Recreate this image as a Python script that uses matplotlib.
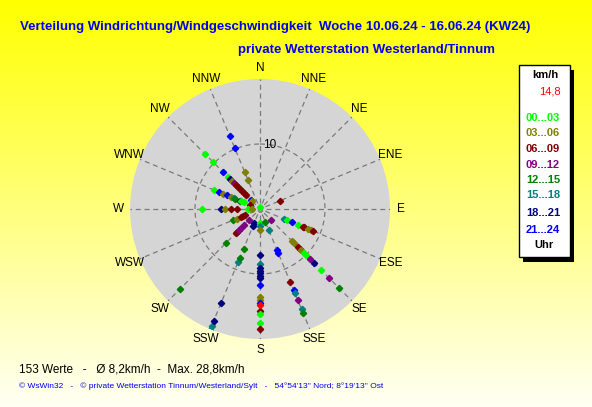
import numpy as np
import matplotlib
matplotlib.use("Agg")
import matplotlib.pyplot as plt
from matplotlib.patches import Rectangle

plt.rcParams['font.family'] = ['Liberation Sans', 'DejaVu Sans']

W, H = 592, 407

compass = ["N", "NNE", "NE", "ENE", "E", "ESE", "SE", "SSE",
           "S", "SSW", "SW", "WSW", "W", "WNW", "NW", "NNW"]

hour_bins = ["00...03", "03...06", "06...09", "09...12",
             "12...15", "15...18", "18...21", "21...24"]
bin_colors = ["#00ff00", "#808000", "#800000", "#800080",
              "#008000", "#008080", "#000080", "#0000ff"]

# each point: direction, speed (km/h), hour bin index
pt_dir = (["N"]
          + ["NNW"] * 4
          + ["NW"] * 15
          + ["WNW"] * 11
          + ["W"] * 7
          + ["WSW"] * 5
          + ["SW"] * 8
          + ["SSW"] * 9
          + ["S"] * 18
          + ["SSE"] * 10
          + ["SE"] * 13
          + ["ESE"] * 9
          + ["ENE"])
pt_speed = ([0.3]
            + [12.1, 10.2, 6.2, 4.9]
            + [12.0, 10.3, 8.1, 7.0, 6.6, 6.1, 5.7, 5.2, 4.8, 4.4, 4.0, 3.5, 3.1, 1.9, 1.7]
            + [7.7, 6.8, 6.1, 5.5, 4.8, 4.4, 4.1, 3.4, 2.7, 3.1, 1.7]
            + [8.9, 6.0, 5.4, 4.4, 3.6, 1.9, 1.3]
            + [4.5, 3.9, 3.1, 2.8, 2.5]
            + [17.4, 7.5, 5.2, 4.9, 4.6, 4.1, 3.5, 2.4]
            + [20.2, 19.4, 18.6, 15.7, 8.9, 8.2, 6.6, 2.8, 2.4]
            + [2.1, 2.6, 3.2, 7.0, 8.5, 9.1, 9.5, 9.9, 10.3, 10.6, 11.7, 13.6, 14.0, 14.5,
               15.7, 16.2, 17.5, 18.4]
            + [2.2, 3.5, 6.8, 7.4, 12.2, 13.5, 14.0, 15.2, 16.7, 17.3]
            + [2.4, 6.9, 7.4, 8.2, 8.6, 9.0, 9.6, 10.0, 10.8, 11.7, 13.3, 15.1, 17.2]
            + [4.0, 4.5, 5.4, 6.4, 7.1, 7.4, 8.0, 8.5, 8.9]
            + [3.4])
pt_bin = ([0]
          + [7, 7, 1, 1]
          + [0, 0, 7, 0, 6, 1, 3, 2, 2, 2, 2, 2, 2, 7, 1]
          + [0, 7, 1, 7, 1, 5, 4, 6, 0, 0, 2]
          + [0, 6, 1, 2, 2, 0, 1]
          + [4, 1, 2, 2, 2]
          + [4, 4, 2, 2, 3, 3, 3, 3]
          + [5, 5, 6, 6, 5, 4, 4, 6, 6]
          + [0, 5, 1, 6, 5, 6, 6, 6, 6, 6, 7, 1, 1, 7, 2, 0, 0, 2]
          + [4, 5, 7, 7, 2, 7, 5, 3, 5, 4]
          + [3, 1, 1, 2, 2, 1, 0, 0, 3, 6, 0, 3, 4]
          + [5, 0, 7, 0, 2, 2, 1, 1, 2]
          + [2])

current_dir = "S"
current_speed = 14.8
r_max = 20
ring_values = [10]

title = "Verteilung Windrichtung/Windgeschwindigkeit  Woche 10.06.24 - 16.06.24 (KW24)"
subtitle = "private Wetterstation Westerland/Tinnum"
stats_text = "153 Werte   -   Ø 8,2km/h  -  Max. 28,8km/h"
footer = "© WsWin32   -   © private Wetterstation Tinnum/Westerland/Sylt   -   54°54'13'' Nord; 8°19'13'' Ost"


def fx(x):
    return x / W


def fy(y):
    return 1 - y / H


def angle(d):
    return np.deg2rad(compass.index(d) * 22.5)


fig = plt.figure(figsize=(W / 100, H / 100), dpi=100)

# yellow gradient background
bg = fig.add_axes([0, 0, 1, 1])
grad = np.linspace(0, 1, 256).reshape(-1, 1)
top = np.array([1.0, 1.0, 0.0])
bottom = np.array([1.0, 1.0, 0.96])
img = top + (bottom - top) * grad[..., None]
img = np.repeat(img, 2, axis=1)
bg.imshow(img, aspect="auto", extent=[0, 1, 0, 1])
bg.set_axis_off()

fig.text(fx(20), fy(27), title, color="#0000ee", fontsize=9.5, fontweight="bold",
         ha="left", va="center")
fig.text(fx(238), fy(50), subtitle, color="#0000ee", fontsize=9.5, fontweight="bold",
         ha="left", va="center")

# polar plot
cx, cy, rad = 260, 209, 130
ax = fig.add_axes([fx(cx - rad), fy(cy + rad), 2 * rad / W, 2 * rad / H], projection="polar")
ax.set_theta_zero_location("N")
ax.set_theta_direction(-1)
ax.set_ylim(0, r_max)
ax.set_facecolor("#d5d5d5")
ax.spines["polar"].set_visible(False)
ax.grid(False)
ax.set_xticks([])
ax.set_yticks([])

for d in compass:
    t = angle(d)
    ax.plot([t, t], [0.9, r_max], color="#7a7a7a", lw=0.9, ls=(0, (4, 3)), zorder=1)
    ax.text(t, 21.7, d, ha="center", va="center", fontsize=8.5, clip_on=False)
ring_t = np.linspace(0, 2 * np.pi, 200)
for rv in ring_values:
    ax.plot(ring_t, np.full_like(ring_t, rv), color="#7a7a7a", lw=0.9, ls=(0, (4, 3)), zorder=1)
    ax.text(np.deg2rad(9), rv - 0.1, str(rv), ha="center", va="center", fontsize=8.5, zorder=3)

ax.plot([0], [0], marker="s", ms=3.5, color="#8c8c8c", zorder=2)
for d, s, b in zip(pt_dir, pt_speed, pt_bin):
    ax.plot(angle(d), s, marker="D", ms=3.2, color=bin_colors[b], mec=bin_colors[b], zorder=4)
ax.plot(angle(current_dir), current_speed, marker="D", ms=3.2, color="#ff0000", zorder=5)

# legend box
fig.patches.append(Rectangle((fx(523), fy(262)), 51 / W, 192 / H, transform=fig.transFigure,
                             facecolor="black", edgecolor="none", zorder=5))
fig.patches.append(Rectangle((fx(519), fy(257)), 51 / W, 192 / H, transform=fig.transFigure,
                             facecolor="white", edgecolor="black", lw=1, zorder=6))
fig.text(fx(545), fy(75), "km/h", fontsize=8, fontweight="bold", ha="center", va="center", zorder=7)
fig.text(fx(561), fy(92), "14,8", color="#ff0000",
         fontsize=8, ha="right", va="center", zorder=7)
leg_y = [118, 133, 149, 165, 180, 195, 213, 230]
for lbl, c, yy in zip(hour_bins, bin_colors, leg_y):
    fig.text(fx(526), fy(yy), lbl, color=c, fontsize=8, fontweight="bold",
             ha="left", va="center", zorder=7)
fig.text(fx(544), fy(245), "Uhr", fontsize=8, fontweight="bold", ha="center", va="center", zorder=7)

fig.text(fx(19), fy(370), stats_text, fontsize=8.5, ha="left", va="center")
fig.text(fx(19), fy(386), footer, color="#0000ee", fontsize=6, ha="left", va="center")

fig.savefig("out.png", dpi=100)
